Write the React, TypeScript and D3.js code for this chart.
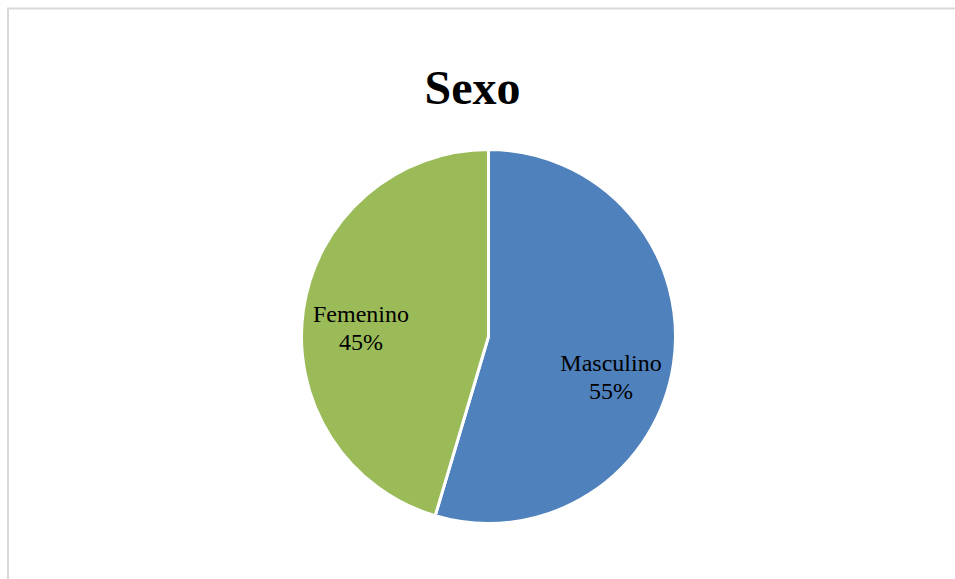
import React from "react";
import * as d3 from "d3";

const categories = ["Masculino", "Femenino"];
const values = [54.6, 45.4];
const colors = ["#4F81BD", "#9BBB59"];
const title = "Sexo";

export default function App() {
  const W = 955, H = 579;
  const cx = 488.5, cy = 336.5, r = 187;
  const pie = d3.pie<number>().sort(null).value((d) => d);
  const arcs = pie(values);
  const arcGen = d3.arc<d3.PieArcDatum<number>>().innerRadius(0).outerRadius(r);
  const labelPos = [
    { x: 611, y: 371 },
    { x: 361, y: 322 },
  ];
  return (
    <svg width={W} height={H} style={{ position: "absolute", left: 0, top: 0, background: "#fff" }}>
      <rect x={8} y={8.5} width={1000} height={700} fill="#fff" stroke="#d9d9d9" strokeWidth={2} />
      <text x={472.5} y={104} textAnchor="middle" fontFamily="Liberation Serif, Times New Roman, serif" fontWeight="bold" fontSize={48} fill="#000">
        {title}
      </text>
      <g transform={`translate(${cx},${cy})`}>
        {arcs.map((a, i) => (
          <path key={i} d={arcGen(a) || ""} fill={colors[i]} stroke="#fff" strokeWidth={3} strokeLinejoin="round" />
        ))}
      </g>
      {arcs.map((a, i) => (
        <text key={i} textAnchor="middle" fontFamily="Liberation Serif, Times New Roman, serif" fontSize={24} fill="#000">
          <tspan x={labelPos[i].x} y={labelPos[i].y}>{categories[i]}</tspan>
          <tspan x={labelPos[i].x} y={labelPos[i].y + 27.5}>{`${Math.round(values[i])}%`}</tspan>
        </text>
      ))}
    </svg>
  );
}
